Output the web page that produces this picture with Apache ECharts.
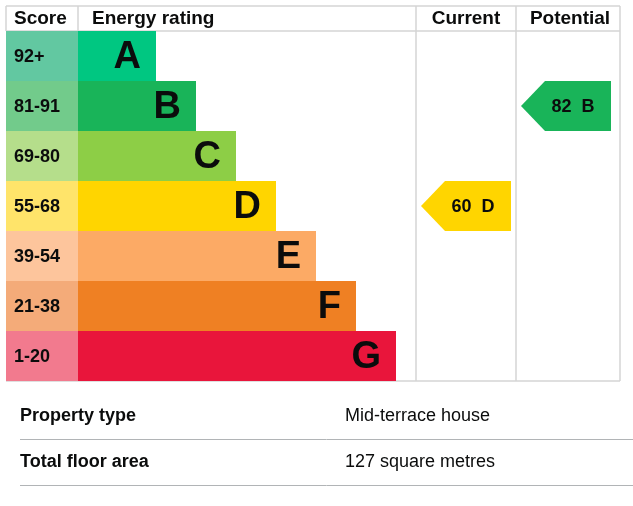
<!DOCTYPE html>
<html>
<head>
<meta charset="utf-8">
<script src="https://cdn.jsdelivr.net/npm/echarts@6/dist/echarts.min.js"></script>
<style>
  html, body { margin: 0; padding: 0; background: #fff; }
  #main { width: 633px; height: 506px; }
</style>
</head>
<body>
<div id="main"></div>
<script>
// bands, top (best) to bottom (worst)
var bands = ['A', 'B', 'C', 'D', 'E', 'F', 'G'];
var scoreRanges = ['92+', '81-91', '69-80', '55-68', '39-54', '21-38', '1-20'];
var ratingBarLength = [78, 118, 158, 198, 238, 278, 318];
var bandColors = ['#00c781', '#19b459', '#8dce46', '#ffd500', '#fcaa65', '#ef8023', '#e9153b'];
var scoreColors = ['#62c8a1', '#72cb8b', '#b5de8b', '#ffe46a', '#fdc59c', '#f4ab79', '#f27a8e'];

// current / potential ratings
var currentRating = [60, 'D'];
var potentialRating = [82, 'B'];

var propertyLabels = ['Property type', 'Total floor area'];
var propertyValues = ['Mid-terrace house', '127 square metres'];

var SCORE_COL = 72;   // score column width (axis units = px)
var CUR_COL = 410;    // start of "Current" column
var POT_COL = 510;    // start of "Potential" column
var ARROW_LEN = 90;
var font = 'Liberation Sans, Arial, sans-serif';
var ink = '#0b0c0c';

var chart = echarts.init(document.getElementById('main'));

function arrowItem(params, api) {
  var x0 = api.value(0);
  var cat = api.value(1);
  var tip = api.coord([x0, cat]);
  var end = api.coord([x0 + ARROW_LEN, cat]);
  var h = api.size([0, 1])[1];
  var notch = 24;
  var color = bandColors[cat];
  return {
    type: 'group',
    children: [{
      type: 'polygon',
      shape: {
        points: [
          [tip[0], tip[1]],
          [tip[0] + notch, tip[1] - h / 2],
          [end[0], tip[1] - h / 2],
          [end[0], tip[1] + h / 2],
          [tip[0] + notch, tip[1] + h / 2]
        ]
      },
      style: { fill: color }
    }, {
      type: 'text',
      style: {
        x: (tip[0] + notch + end[0]) / 2 - 5,
        y: tip[1] + 1,
        text: api.value(2) + '  ' + bands[cat],
        fill: ink,
        font: 'bold 18px ' + font,
        align: 'center',
        verticalAlign: 'middle'
      }
    }]
  };
}

var line = function (x1, y1, x2, y2, color, w) {
  return {
    type: 'line', z: -1, silent: true,
    shape: { x1: x1, y1: y1, x2: x2, y2: y2 },
    style: { stroke: color, lineWidth: w }
  };
};
var txt = function (x, y, s, weight, size, align) {
  return {
    type: 'text', silent: true,
    style: {
      x: x, y: y, text: s, fill: ink, align: align || 'left', verticalAlign: 'middle',
      font: weight + ' ' + size + 'px ' + font
    }
  };
};

var grey = '#d4d4d4';
var graphics = [
  line(6, 6, 620, 6, grey, 1.5),
  line(6, 31, 620, 31, grey, 1.5),
  line(6, 6, 6, 31, grey, 1.5),
  line(78, 6, 78, 31, grey, 1.5),
  line(416, 6, 416, 381, grey, 1.5),
  line(516, 6, 516, 381, grey, 1.5),
  line(620, 6, 620, 381, grey, 1.5),
  line(6, 381, 620, 381, grey, 1.5),
  txt(14, 19, 'Score', 'bold', 19),
  txt(92, 19, 'Energy rating', 'bold', 19),
  txt(466, 19, 'Current', 'bold', 19, 'center'),
  txt(570, 19, 'Potential', 'bold', 19, 'center')
];
propertyLabels.forEach(function (lab, i) {
  var y = 416 + i * 46;
  graphics.push(txt(20, y, lab, 'bold', 18));
  graphics.push(txt(345, y, propertyValues[i], 'normal', 18));
  graphics.push(line(20, y + 23.5, 633, y + 23.5, '#b1b4b6', 1));
});

var option = {
  animation: false,
  grid: { left: 6, right: 13, top: 31, bottom: 125 },
  xAxis: { type: 'value', min: 0, max: 614, show: false },
  yAxis: { type: 'category', data: bands, inverse: true, show: false },
  graphic: graphics,
  series: [{
    name: 'score',
    type: 'bar',
    stack: 'band',
    barCategoryGap: 0,
    data: bands.map(function () { return SCORE_COL; }),
    itemStyle: { color: function (p) { return scoreColors[p.dataIndex]; } },
    label: {
      show: true, position: 'insideLeft', distance: 8, offset: [0, 1],
      formatter: function (p) { return scoreRanges[p.dataIndex]; },
      color: ink, fontFamily: font, fontWeight: 'bold', fontSize: 18
    }
  }, {
    name: 'rating',
    type: 'bar',
    stack: 'band',
    barCategoryGap: 0,
    data: ratingBarLength,
    itemStyle: { color: function (p) { return bandColors[p.dataIndex]; } },
    label: {
      show: true, position: 'insideRight', distance: 15, offset: [0, 2],
      formatter: function (p) { return bands[p.dataIndex]; },
      color: ink, fontFamily: font, fontWeight: 'bold', fontSize: 38
    }
  }, {
    name: 'arrows',
    type: 'custom',
    renderItem: arrowItem,
    data: [
      [CUR_COL + 5, bands.indexOf(currentRating[1]), currentRating[0]],
      [POT_COL + 5, bands.indexOf(potentialRating[1]), potentialRating[0]]
    ]
  }]
};
chart.setOption(option);
</script>
</body>
</html>
